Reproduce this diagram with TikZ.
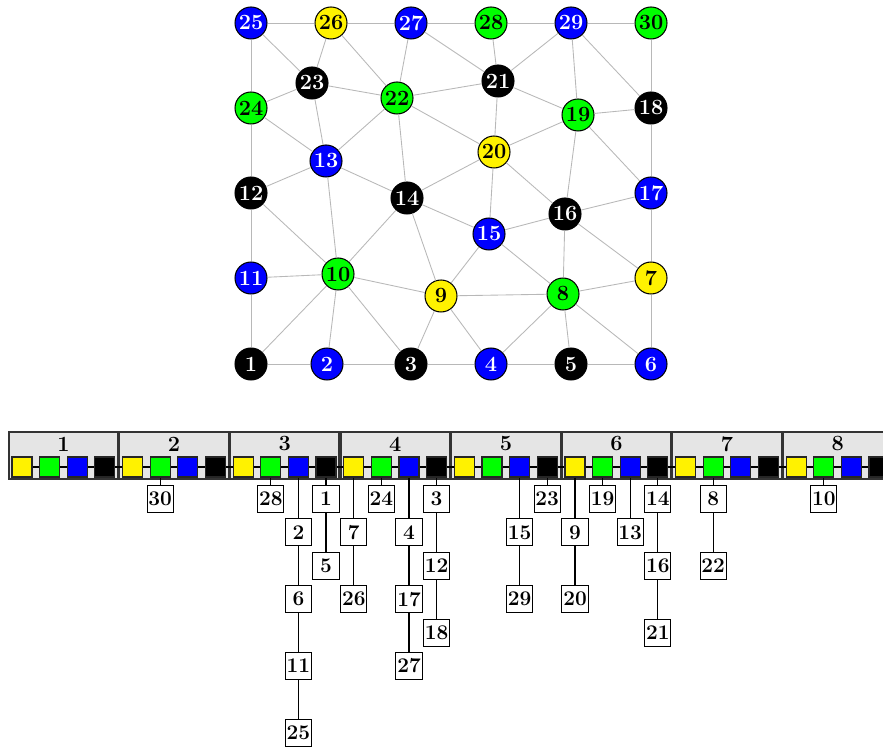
\documentclass[tikz,border=0pt]{standalone}
\usetikzlibrary{positioning}

\begin{document}
\begin{tikzpicture}[x=0.575pt,y=-0.575pt,
		vtx/.style={circle,draw=black,line width=0.6pt,minimum size=18.4pt,inner sep=0pt,font=\fontsize{12.5}{14}\selectfont\bfseries},
		edg/.style={draw=black!28,line width=0.5pt},
		bucket/.style={draw=black!80,line width=0.9pt,fill=black!10,minimum width=62.7pt,minimum height=27pt,inner sep=0pt},
		slot/.style={draw=black!85,line width=0.8pt,minimum size=11.5pt,inner sep=0pt},
		entry/.style={draw=black,line width=0.6pt,fill=white,minimum width=15pt,minimum height=15.5pt,inner sep=0.4pt,font=\fontsize{12}{14}\selectfont\bfseries}]
	\useasboundingbox (0,0) rectangle (883,748);

	% the graph
	\foreach \n/\X/\Y/\c/\t in {1/251/364/black/white,2/327/364/blue/white,3/411/364/black/white,
			4/491/364/blue/white,5/571/364/black/white,6/651/364/blue/white,7/651/278/yellow/black,
			8/563/294/green/black,9/441/296/yellow/black,10/338/274/green/black,11/251/278/blue/white,
			12/251/193/black/white,13/326/161/blue/white,14/407/198/black/white,15/489/234/blue/white,
			16/565/214/black/white,17/651/193/blue/white,18/651/108/black/white,19/578/115/green/black,
			20/494/152/yellow/black,21/498/81/black/white,22/397/98/green/black,23/312/83/black/white,
			24/251/108/green/black,25/251/23/blue/white,26/331/23/yellow/black,27/411/23/blue/white,
			28/491/23/green/black,29/571/23/blue/white,30/651/23/green/black} {
		\node[vtx,fill=\c,text=\t] (v\n) at (\X,\Y) {\n};}
	\foreach \a/\b in {25/26,26/27,27/28,28/29,29/30,25/24,24/12,12/11,11/1,30/18,18/17,17/7,7/6,
			1/2,2/3,3/4,4/5,5/6,25/23,26/23,26/22,27/22,27/21,28/21,29/21,29/19,29/18,23/24,23/22,
			23/13,22/21,22/13,22/14,22/20,21/19,21/20,19/18,19/20,19/17,19/16,24/13,13/12,13/14,
			13/10,20/14,20/15,20/16,12/10,14/10,14/15,14/9,16/17,16/15,16/8,16/7,15/9,15/8,11/10,
			10/9,10/1,10/2,10/3,9/8,9/3,9/4,8/7,8/4,8/5,8/6} {
		\draw[edg] (v\a) -- (v\b);}

	% the buckets
	\foreach \k in {1,...,8} {
		\node[bucket] (b\k) at ({63.5+110.6*(\k-1)},455.5) {};
		\node[font=\fontsize{12.5}{14}\selectfont\bfseries] (t\k) at ({63.5+110.6*(\k-1)},444) {\k};
		\foreach \c [count=\i] in {yellow,green,blue,black} {
			\pgfmathtruncatemacro\q{4*(\k-1)+\i}
			\node[slot,fill=\c] (q\q) at ({22+110.6*(\k-1)+27.6*(\i-1)},467) {};}
	}
	\foreach \i [evaluate=\i as \j using int(\i+1)] in {1,...,31} {
		\draw[line width=0.6pt] (q\i) -- (q\j);}

	% the lists
	\foreach \q/\r/\v in {6/1/30,10/1/28,11/2/2,11/4/6,11/6/11,11/8/25,12/1/1,12/3/5,
			13/2/7,13/4/26,14/1/24,15/2/4,15/4/17,15/6/27,16/1/3,16/3/12,16/5/18,
			19/2/15,19/4/29,20/1/23,21/2/9,21/4/20,22/1/19,23/2/13,24/1/14,24/3/16,24/5/21,
			26/1/8,26/3/22,30/1/10} {
		\pgfmathsetmacro\ex{22+110.6*floor((\q-1)/4)+27.6*mod(\q-1,4)}
		\pgfmathsetmacro\ey{499+33.4*(\r-1)}
		\node[entry] (e\v) at (\ex,\ey) {\v};}
	\foreach \a/\b in {q6/e30,q10/e28,q11/e2,e2/e6,e6/e11,e11/e25,q12/e1,e1/e5,
			q13/e7,e7/e26,q14/e24,q15/e4,e4/e17,e17/e27,q16/e3,e3/e12,e12/e18,
			q19/e15,e15/e29,q20/e23,q21/e9,e9/e20,q22/e19,q23/e13,q24/e14,e14/e16,e16/e21,
			q26/e8,e8/e22,q30/e10} {
		\draw[line width=0.6pt] (\a) -- (\b);}
\end{tikzpicture}
\end{document}
